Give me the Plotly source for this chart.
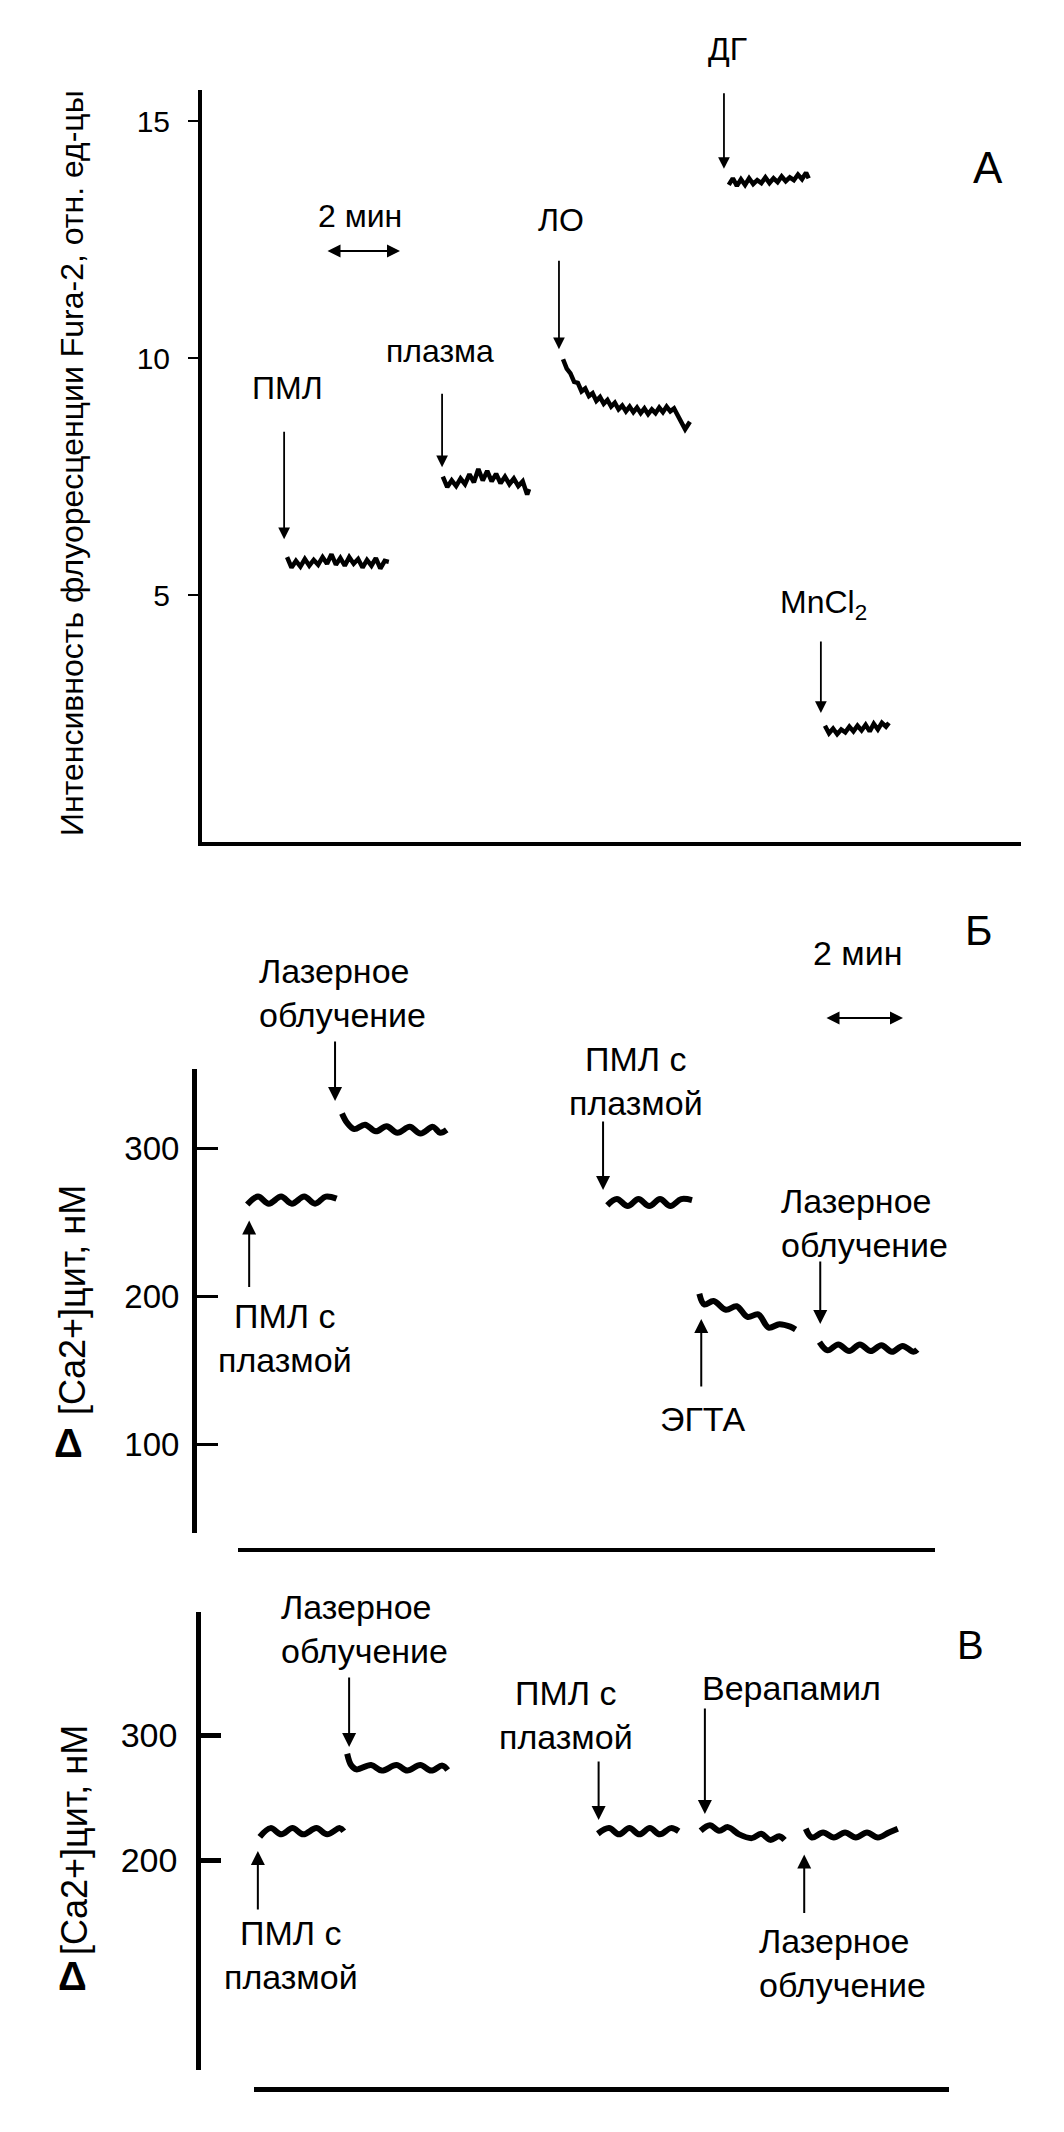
import plotly.graph_objects as go

W, H = 1064, 2132
FONT = "Liberation Sans, Arial, Helvetica, sans-serif"

# ---------------- Panel А: Fura-2 fluorescence (rel. units) vs time (min)
a_ticks = [5, 10, 15]
a_pml_t = [2.30, 2.42, 2.54, 2.66, 2.78, 2.90, 3.02, 3.14, 3.26, 3.38, 3.50, 3.62,
           3.74, 3.86, 3.98, 4.10, 4.22, 4.34, 4.46, 4.58, 4.70, 4.82, 4.94, 5.05]
a_pml_v = [5.80, 5.58, 5.72, 5.60, 5.76, 5.62, 5.74, 5.64, 5.80, 5.66, 5.86, 5.64,
           5.78, 5.62, 5.80, 5.66, 5.76, 5.58, 5.74, 5.62, 5.78, 5.56, 5.72, 5.70]
a_plasma_t = [6.51, 6.63, 6.75, 6.87, 6.99, 7.11, 7.23, 7.35, 7.47, 7.59, 7.71,
              7.83, 7.95, 8.07, 8.19, 8.31, 8.43, 8.55, 8.67, 8.79, 8.84]
a_plasma_v = [7.50, 7.28, 7.42, 7.30, 7.46, 7.34, 7.55, 7.38, 7.66, 7.42, 7.62,
              7.40, 7.56, 7.36, 7.50, 7.34, 7.46, 7.30, 7.40, 7.12, 7.24]
a_lo_t = [9.76, 9.86, 9.96, 10.06, 10.16, 10.26, 10.36, 10.46, 10.56, 10.66, 10.76,
          10.86, 10.96, 11.06, 11.16, 11.26, 11.36, 11.46, 11.56, 11.66, 11.76, 11.86,
          11.96, 12.06, 12.16, 12.26, 12.36, 12.46, 12.56, 12.66, 12.76, 12.86, 12.96,
          13.06, 13.19]
a_lo_v = [9.98, 9.78, 9.68, 9.50, 9.48, 9.30, 9.36, 9.20, 9.26, 9.10, 9.18,
          9.04, 9.12, 8.98, 9.06, 8.92, 9.00, 8.88, 8.98, 8.86, 8.96, 8.84,
          8.94, 8.82, 8.92, 8.84, 8.96, 8.86, 8.98, 8.88, 8.94, 8.80, 8.62,
          8.50, 8.66]
a_dg_t = [14.24, 14.35, 14.46, 14.57, 14.68, 14.79, 14.90, 15.01, 15.12, 15.23, 15.34,
          15.45, 15.56, 15.67, 15.78, 15.89, 16.00, 16.11, 16.22, 16.33, 16.40]
a_dg_v = [13.66, 13.80, 13.64, 13.78, 13.66, 13.80, 13.68, 13.76, 13.70, 13.82, 13.70,
          13.80, 13.72, 13.84, 13.74, 13.82, 13.76, 13.88, 13.78, 13.92, 13.80]
a_mn_t = [16.84, 16.95, 17.06, 17.17, 17.28, 17.39, 17.50, 17.61, 17.72, 17.83, 17.94,
          18.05, 18.16, 18.27, 18.38, 18.49, 18.57]
a_mn_v = [2.24, 2.08, 2.18, 2.06, 2.16, 2.10, 2.22, 2.12, 2.24, 2.14, 2.26,
          2.12, 2.28, 2.16, 2.30, 2.22, 2.30]
# additions (arrow heads): time, value
a_event_names = ["ПМЛ", "плазма", "ЛО", "ДГ", "MnCl<sub>2</sub>"]
a_event_t = [2.22, 6.49, 9.65, 14.11, 16.73]
a_event_v = [6.18, 7.70, 10.19, 14.00, 2.51]

# ---------------- Panel Б: Δ[Ca2+]цит (nM) vs time (min)
b_ticks = [100, 200, 300]
b_pml1_t = [0.24, 0.52, 0.80, 1.12, 1.40, 1.72, 2.00, 2.28, 2.56]
b_pml1_v = [262.0, 267.4, 262.6, 267.4, 262.6, 267.4, 262.6, 267.4, 266.0]
b_las1_t = [2.70, 2.84, 3.02, 3.30, 3.58, 3.86, 4.14, 4.46, 4.74, 5.06, 5.25, 5.42]
b_las1_v = [323.6, 317.0, 313.0, 316.0, 311.5, 315.0, 310.5, 314.5, 310.0, 314.5, 310.5, 312.5]
b_pml2_t = [9.59, 9.84, 10.12, 10.40, 10.68, 10.96, 11.23, 11.51, 11.79]
b_pml2_v = [261.5, 265.7, 261.0, 265.7, 261.0, 265.7, 261.0, 265.7, 265.0]
b_egta_t = [11.98, 12.11, 12.35, 12.67, 12.95, 13.23, 13.51, 13.78, 14.06, 14.34, 14.48]
b_egta_v = [201.8, 194.5, 196.9, 190.9, 193.3, 186.1, 187.8, 178.9, 181.2, 179.5, 177.6]
b_las2_t = [15.10, 15.31, 15.59, 15.87, 16.15, 16.43, 16.71, 16.98, 17.26, 17.54, 17.64]
b_las2_v = [169.0, 163.5, 167.5, 163.0, 167.5, 163.0, 167.0, 162.5, 166.5, 162.5, 164.0]
b_event_t = [0.29, 2.52, 9.48, 12.03, 15.12]
b_event_v = [251.2, 331.9, 271.8, 184.7, 181.3]

# ---------------- Panel В: Δ[Ca2+]цит (nM) vs time (min)
c_ticks = [200, 300]
c_pml1_t = [0.15, 0.43, 0.71, 1.00, 1.28, 1.62, 1.90, 2.23, 2.33]
c_pml1_v = [218.5, 225.5, 220.5, 225.5, 220.5, 225.5, 220.5, 225.5, 223.0]
c_las1_t = [2.42, 2.52, 2.66, 3.04, 3.32, 3.70, 3.98, 4.32, 4.60, 4.89, 5.03]
c_las1_v = [285.0, 276.0, 272.5, 276.0, 271.5, 276.0, 271.5, 276.0, 271.5, 275.5, 272.0]
c_pml2_t = [8.93, 9.22, 9.48, 9.75, 10.01, 10.28, 10.54, 10.83, 11.03]
c_pml2_v = [221.0, 225.5, 220.5, 225.5, 220.5, 225.5, 220.5, 225.5, 223.0]
c_ver_t = [11.60, 11.84, 12.08, 12.31, 12.60, 12.93, 13.17, 13.41, 13.64, 13.78]
c_ver_v = [223.4, 227.8, 223.4, 226.3, 220.5, 217.5, 221.0, 216.1, 219.0, 216.0]
c_las2_t = [14.33, 14.49, 14.78, 15.06, 15.35, 15.63, 15.92, 16.20, 16.49, 16.72]
c_las2_v = [225.0, 218.0, 222.0, 218.0, 222.0, 218.0, 222.0, 218.0, 222.0, 225.0]
c_event_t = [0.10, 2.47, 8.95, 11.71, 14.29]
c_event_v = [207.2, 290.4, 232.0, 236.8, 204.4]


def PX(X):
    return X / W


def PY(Y):
    return 1 - Y / H


fig = go.Figure()

for t, v in [(a_pml_t, a_pml_v), (a_plasma_t, a_plasma_v), (a_lo_t, a_lo_v),
             (a_dg_t, a_dg_v), (a_mn_t, a_mn_v)]:
    fig.add_trace(go.Scatter(x=t, y=v, mode="lines", xaxis="x", yaxis="y",
                             line=dict(color="black", width=4.5), hoverinfo="skip",
                             showlegend=False))

for t, v in [(b_pml1_t, b_pml1_v), (b_las1_t, b_las1_v), (b_pml2_t, b_pml2_v),
             (b_egta_t, b_egta_v), (b_las2_t, b_las2_v)]:
    fig.add_trace(go.Scatter(x=t, y=v, mode="lines", xaxis="x2", yaxis="y2",
                             line=dict(color="black", width=6, shape="spline", smoothing=1.0),
                             hoverinfo="skip", showlegend=False))

for t, v in [(c_pml1_t, c_pml1_v), (c_las1_t, c_las1_v), (c_pml2_t, c_pml2_v),
             (c_ver_t, c_ver_v), (c_las2_t, c_las2_v)]:
    fig.add_trace(go.Scatter(x=t, y=v, mode="lines", xaxis="x3", yaxis="y3",
                             line=dict(color="black", width=6, shape="spline", smoothing=1.0),
                             hoverinfo="skip", showlegend=False))

ann = []


def label(text, X, Y, size, xanchor="center", align="center", angle=0):
    ann.append(dict(text=text, x=PX(X), y=PY(Y), xref="paper", yref="paper",
                    xanchor=xanchor, yanchor="middle", align=align, textangle=angle,
                    showarrow=False, font=dict(family=FONT, size=size, color="black")))


def arrow(xref, yref, t, v, ay, width=2.0, size=1.4):
    ann.append(dict(text="", x=t, y=v, xref=xref, yref=yref, ax=0, ay=ay,
                    showarrow=True, arrowhead=2, arrowsize=size, arrowwidth=width,
                    arrowcolor="black", standoff=0))


def scalebar(X_head, Y, length):
    ann.append(dict(text="", x=PX(X_head), y=PY(Y), xref="paper", yref="paper",
                    ax=-length, ay=0, showarrow=True, arrowhead=2, arrowside="end+start",
                    arrowsize=1.3, arrowwidth=2, arrowcolor="black", standoff=0,
                    startstandoff=0))


# ---- Panel А annotations
a_offsets = [-109, -75, -90, -77, -73]
for t, v, ay in zip(a_event_t, a_event_v, a_offsets):
    arrow("x", "y", t, v, ay, width=1.8, size=1.3)
label("ПМЛ", 279, 380, 32)
label("плазма", 432, 343, 32)
label("ЛО", 553, 212, 32)
label("ДГ", 719, 41, 32)
label("MnCl<sub>2</sub>", 815, 597, 32)
label("2 мин", 352, 208, 32)
scalebar(392, 243, 74)
label("А", 980, 159, 44)
label("Интенсивность флуоресценции Fura-2, отн. ед-цы", 64, 455, 32, angle=-90)

# ---- Panel Б annotations
b_offsets = [68, -61, -70, 69, -64]
for t, v, ay in zip(b_event_t, b_event_v, b_offsets):
    arrow("x2", "y2", t, v, ay)
label("Лазерное<br>облучение", 249, 985, 34, xanchor="left", align="left")
label("ПМЛ с<br>плазмой", 277, 1330, 34)
label("ПМЛ с<br>плазмой", 628, 1073, 34)
label("ЭГТА", 694, 1411, 34)
label("Лазерное<br>облучение", 771, 1215, 34, xanchor="left", align="left")
label("2 мин", 850, 945, 34)
scalebar(895, 1010, 78)
label("Б", 971, 923, 42)
label("[Ca2+]цит, нМ", 64, 1292, 36, angle=-90)
label("<b>Δ</b>", 60, 1435, 40)

# ---- Panel В annotations
c_offsets = [60, -71, -60, -107, 60]
for t, v, ay in zip(c_event_t, c_event_v, c_offsets):
    arrow("x3", "y3", t, v, ay)
label("Лазерное<br>облучение", 271, 1621, 34, xanchor="left", align="left")
label("ПМЛ с<br>плазмой", 283, 1947, 34)
label("ПМЛ с<br>плазмой", 558, 1707, 34)
label("Верапамил", 783, 1680, 34)
label("Лазерное<br>облучение", 749, 1955, 34, xanchor="left", align="left")
label("В", 962, 1637, 40)
label("[Ca2+]цит, нМ", 66, 1832, 36, angle=-90)
label("<b>Δ</b>", 64, 1968, 40)

common = dict(showgrid=False, zeroline=False, linecolor="black", color="black")

fig.update_layout(
    width=W, height=H,
    margin=dict(l=0, r=0, t=0, b=0),
    paper_bgcolor="white", plot_bgcolor="white",
    font=dict(family=FONT, color="black"),
    showlegend=False,
    annotations=ann,
    # Panel А
    xaxis=dict(domain=[PX(194), PX(1013)], range=[0, 22.14], anchor="y",
               showline=True, linewidth=4, ticks="", showticklabels=False, **common),
    yaxis=dict(domain=[PY(834), PY(82)], range=[-0.216, 15.665], anchor="x",
               showline=True, linewidth=4, ticks="outside", ticklen=10, tickwidth=2,
               tickvals=a_ticks, tickfont=dict(size=30, family=FONT),
               ticklabelstandoff=12, **common),
    # Panel Б
    xaxis2=dict(domain=[PX(230), PX(927)], range=[0, 18.1], anchor="free",
                position=PY(1542), showline=True, linewidth=4, ticks="",
                showticklabels=False, **common),
    yaxis2=dict(domain=[PY(1525), PY(1061)], range=[40.1, 353.6], anchor="free",
                position=PX(186), showline=True, linewidth=5, ticks="inside",
                ticklen=21, tickwidth=3, tickvals=b_ticks,
                tickfont=dict(size=33, family=FONT), ticklabelstandoff=6, **common),
    # Panel В
    xaxis3=dict(domain=[PX(246), PX(941)], range=[0, 18.05], anchor="free",
                position=PY(2081), showline=True, linewidth=4.5, ticks="",
                showticklabels=False, **common),
    yaxis3=dict(domain=[PY(2062), PY(1604)], range=[32, 398.4], anchor="free",
                position=PX(190), showline=True, linewidth=4.5, ticks="inside",
                ticklen=20, tickwidth=5, tickvals=c_ticks,
                tickfont=dict(size=34, family=FONT), ticklabelstandoff=12, **common),
)

fig.write_html("out.html")
